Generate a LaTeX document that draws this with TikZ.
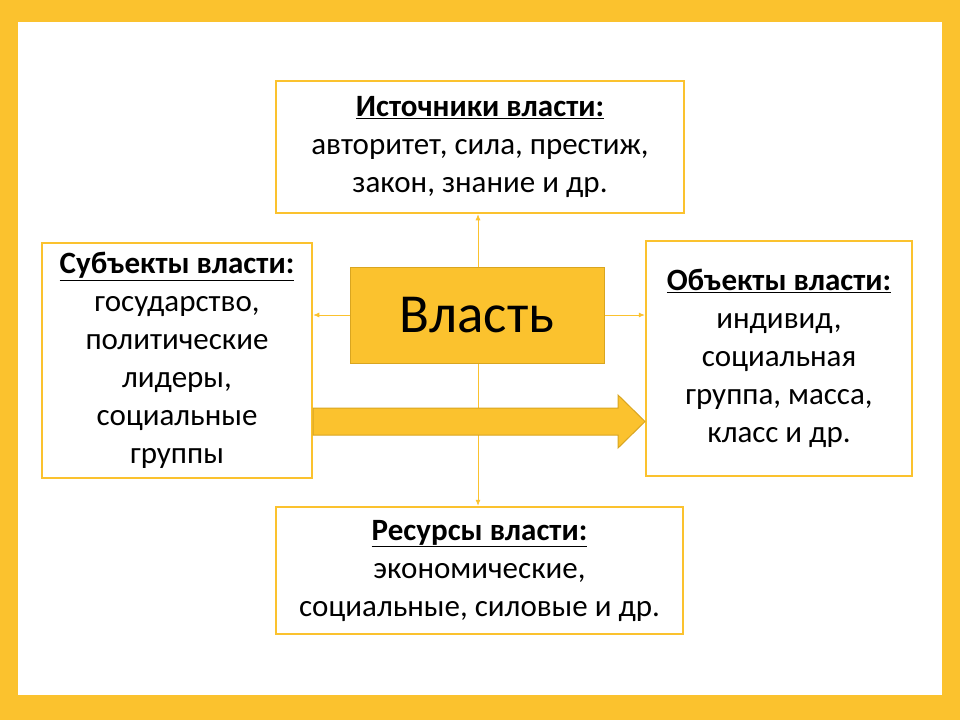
\documentclass[tikz,border=0pt]{standalone}
\usepackage{fontspec}
\setmainfont{Carlito}
\usetikzlibrary{arrows.meta}
\definecolor{gold}{HTML}{FBC22E}
\definecolor{goldd}{HTML}{D9A520}
\begin{document}
\begin{tikzpicture}[x=1pt,y=-1pt,
  box/.style={draw=gold,line width=2.5pt,fill=white,inner sep=0pt,align=center,font=\fontsize{31}{38}\selectfont},
  thin/.style={draw=gold,line width=0.8pt,-{Latex[length=6pt,width=5pt]}}]
\fill[gold] (0,0) rectangle (960,720);
\fill[white] (18,22) rectangle (942,695);
\node[box,minimum width=408pt,minimum height=132pt] (top) at (480,147) {\textbf{\underline{Источники власти:}}\\авторитет, сила, престиж,\\закон, знание и др.};
\node[box,minimum width=270pt,minimum height=235pt] (left) at (177,360.5) {\textbf{\underline{Субъекты власти:}}\\государство,\\политические\\лидеры,\\социальные\\группы};
\node[box,minimum width=266pt,minimum height=235pt] (right) at (779,358.5) {\textbf{\underline{Объекты власти:}}\\индивид,\\социальная\\группа, масса,\\класс и др.};
\node[box,minimum width=407pt,minimum height=127pt] (bot) at (479.5,570.5) {\textbf{\underline{Ресурсы власти:}}\\экономические,\\социальные, силовые и др.};
\draw[thin] (478,363) -- (bot.north -| 478,0);
\draw[thin] (478,267) -- (top.south -| 478,0);
\node[draw=goldd,fill=gold,line width=1pt,minimum width=254pt,minimum height=96pt,font=\fontsize{55}{60}\selectfont] (c) at (477,315) {Власть};
\draw[thin] (c.west) -- (left.east |- c.west);
\draw[thin] (c.east) -- (right.west |- c.east);
\draw[goldd,fill=gold,line width=1pt] (313,408) -- (618,408) -- (618,395) -- (645,421.5) -- (618,448) -- (618,435) -- (313,435) -- cycle;
\end{tikzpicture}
\end{document}
